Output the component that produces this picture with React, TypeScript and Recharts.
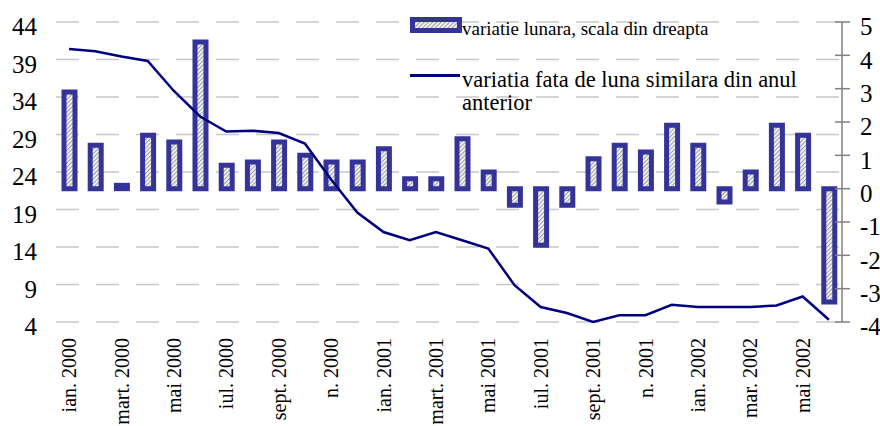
import { ComposedChart, Bar, Line, XAxis, YAxis, CartesianGrid } from 'recharts'

const months = [
  'ian. 2000', 'feb. 2000', 'mart. 2000', 'apr. 2000', 'mai 2000', 'iun. 2000',
  'iul. 2000', 'aug. 2000', 'sept. 2000', 'oct. 2000', 'n. 2000', 'dec. 2000',
  'ian. 2001', 'feb. 2001', 'mart. 2001', 'apr. 2001', 'mai 2001', 'iun. 2001',
  'iul. 2001', 'aug. 2001', 'sept. 2001', 'oct. 2001', 'n. 2001', 'dec. 2001',
  'ian. 2002', 'feb. 2002', 'mar. 2002', 'apr. 2002', 'mai 2002', 'iun. 2002',
]

// variatie lunara (scala din dreapta)
const monthly = [
  2.9, 1.3, 0.1, 1.6, 1.4, 4.4, 0.7, 0.8, 1.4, 1.0, 0.8, 0.8,
  1.2, 0.3, 0.3, 1.5, 0.5, -0.5, -1.7, -0.5, 0.9, 1.3, 1.1, 1.9,
  1.3, -0.4, 0.5, 1.9, 1.6, -3.4,
]

// variatia fata de luna similara din anul anterior (scala din stanga)
const yearly = [
  40.4, 40.1, 39.4, 38.8, 34.8, 31.4, 29.4, 29.5, 29.2, 27.8, 23.0, 18.6,
  16.0, 14.9, 16.0, 14.9, 13.8, 8.9, 6.0, 5.2, 4.0, 4.9, 4.9, 6.3,
  6.0, 6.0, 6.0, 6.2, 7.4, 4.3,
]

const leftTicks = [4, 9, 14, 19, 24, 29, 34, 39, 44]
const rightTicks = [-4, -3, -2, -1, 0, 1, 2, 3, 4, 5]
const edgeTicks = months.map((_, i) => i).concat(months.length)

const barName = 'variatie lunara, scala din dreapta'
const lineName = 'variatia fata de luna similara din anul anterior'

const data = months.map((month, i) => ({ month, monthly: monthly[i], yearly: yearly[i] }))

const font = '"Liberation Serif", "Times New Roman", serif'
const barBlue = '#333399'
const lineBlue = '#000080'
const axisGray = '#808080'

const MonthTick = (props: any) => {
  const { x, y, payload } = props
  return (
    <text x={x} y={y} transform={`rotate(-90 ${x} ${y})`} textAnchor="end" dy="0.36em"
      fontSize={20} style={{ fontFamily: font }} fill="#000">
      {payload.value}
    </text>
  )
}

const ValueTick = (props: any) => {
  const { x, y, payload, anchor } = props
  return (
    <text x={x} y={y + 4.5} dy="0.35em" textAnchor={anchor} fontSize={25} style={{ fontFamily: font }} fill="#000">
      {payload.value}
    </text>
  )
}

export default function App() {
  return (
    <div style={{ position: 'absolute', left: 0, top: 0, width: 880, height: 426, background: '#fff', fontFamily: font }}>
      <svg width={0} height={0} style={{ position: 'absolute' }}>
        <defs>
          <pattern id="hatch" width={3} height={3} patternUnits="userSpaceOnUse" patternTransform="rotate(45)">
            <rect width={3} height={3} fill="#f4f4f4" />
            <rect width={1.1} height={3} fill="#a0a0a0" />
          </pattern>
        </defs>
      </svg>
      <ComposedChart width={880} height={426} data={data} margin={{ top: 22, right: 0, bottom: 0, left: 0 }}>
        <XAxis xAxisId="edges" type="number" domain={[0, months.length]} ticks={edgeTicks} height={0}
          tick={false} tickSize={6} stroke={axisGray} axisLine={{ stroke: axisGray, strokeWidth: 1.5 }}
          tickLine={{ stroke: axisGray, strokeWidth: 1.5 }} allowDataOverflow />
        <XAxis xAxisId="cat" dataKey="month" height={104} interval={1} axisLine={false} tickLine={false}
          tickSize={6} tickMargin={10} tick={<MonthTick />} />
        <YAxis yAxisId="left" orientation="left" width={56} domain={[4, 44]} ticks={leftTicks}
          axisLine={false} tickLine={false} tickSize={6} tickMargin={13}
          tick={<ValueTick anchor="end" />} />
        <YAxis yAxisId="right" orientation="right" width={38} domain={[-4, 5]} ticks={rightTicks}
          axisLine={{ stroke: axisGray, strokeWidth: 1.5 }} tickSize={15} tickMargin={3}
          tickLine={{ stroke: axisGray, strokeWidth: 1.5, transform: 'translate(-7 0)' }}
          tick={<ValueTick anchor="start" />} />
        <CartesianGrid yAxisId="left" xAxisId="cat" vertical={false} stroke="#c8c8c8" strokeWidth={1.5}
          strokeDasharray="23 17" />
        <Bar xAxisId="cat" yAxisId="right" dataKey="monthly" name={barName} barSize={11}
          fill="url(#hatch)" stroke={barBlue} strokeWidth={5} isAnimationActive={false} />
        <Line xAxisId="cat" yAxisId="left" dataKey="yearly" name={lineName} type="linear"
          stroke={lineBlue} strokeWidth={2.5} dot={false} isAnimationActive={false} />
      </ComposedChart>
      <div style={{ position: 'absolute', left: 410, top: 17, width: 42, height: 6, border: `5px solid ${barBlue}` }}>
        <svg width={42} height={6} style={{ display: 'block' }}><rect width={42} height={6} fill="url(#hatch)" /></svg>
      </div>
      <div style={{ position: 'absolute', left: 462, top: 18, fontSize: 19, lineHeight: '22px', color: '#000', whiteSpace: 'nowrap' }}>
        {barName}
      </div>
      <div style={{ position: 'absolute', left: 410, top: 74, width: 50, height: 2.5, background: lineBlue }} />
      <div style={{ position: 'absolute', left: 462, top: 68, fontSize: 22.5, lineHeight: '23px', color: '#000', width: 350 }}>
        {lineName}
      </div>
    </div>
  )
}
